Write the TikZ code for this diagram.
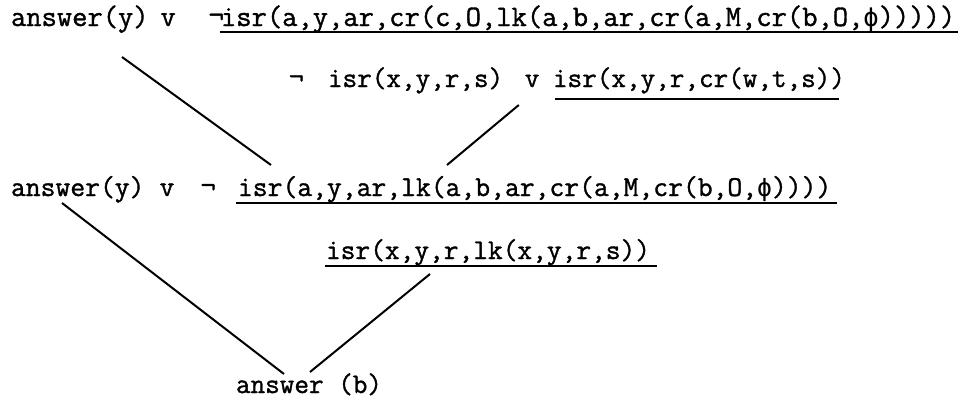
\documentclass[tikz,border=0pt]{standalone}
\usepackage{fontspec}
\newfontfamily\typefont{lmmono12-regular.otf}[FakeBold=1.2]
\newfontfamily\symfont{DejaVu Sans Mono}

\tikzset{
  term/.style={anchor=base west, inner sep=0pt, outer sep=0pt,
    font=\typefont\fontsize{#1pt}{#1pt}\selectfont},
  uline/.style={line width=1.5pt},
  link/.style={line width=2pt},
}
\newcommand{\phisym}{{\symfont\fontsize{0.86em}{1em}\selectfont ϕ}}

\begin{document}
\begin{tikzpicture}[x=1pt, y=-1pt]
  \fill[white] (0,0) rectangle (961,402);
  \useasboundingbox (0,0) rectangle (961,402);

  % first clause
  \node[term=29.7] (l1a) at (11,26)    {answer(y)};
  \node[term=29.7] (l1v) at (160.5,26) {v};
  \node[term=29.7] (l1n) at (208.5,26) {¬};
  \node[term=29.7] (l1c) at (221,26)   {isr(a,y,ar,cr(c,O,lk(a,b,ar,cr(a,M,cr(b,O,\phisym)))))};
  \draw[uline] ([xshift=-1pt,yshift=-6pt]l1c.base west) -- ([xshift=3pt,yshift=-6pt]l1c.base east);

  % second clause
  \node[term=28.35] (l2n) at (289,87)   {¬};
  \node[term=28.35] (l2a) at (328,87)   {isr(x,y,r,s)};
  \node[term=28.35] (l2v) at (524.8,87) {v};
  \node[term=28.35] (l2c) at (553,87)   {isr(x,y,r,cr(w,t,s))};
  \draw[uline] ([xshift=2pt,yshift=-12pt]l2c.base west) -- ([xshift=-6pt,yshift=-12pt]l2c.base east);

  % resolvent
  \node[term=28.8] (l3a) at (11,196)    {answer(y)};
  \node[term=28.8] (l3v) at (159.6,196) {v};
  \node[term=28.8] (l3n) at (200.6,196) {¬};
  \node[term=28.8] (l3c) at (238,196)   {isr(a,y,ar,lk(a,b,ar,cr(a,M,cr(b,O,\phisym))))};
  \draw[uline] ([xshift=-2pt,yshift=-7pt]l3c.base west) -- ([xshift=6pt,yshift=-7pt]l3c.base east);

  % unit clause
  \node[term=28.6] (l4) at (326,259) {isr(x,y,r,lk(x,y,r,s))};
  \draw[uline] ([xshift=-1pt,yshift=-7pt]l4.base west) -- ([xshift=7pt,yshift=-7pt]l4.base east);

  % answer
  \node[term=28.35] (l5) at (236,393) {answer (b)};

  % resolution links
  \draw[link] ([xshift=111pt,yshift=-31pt]l1a.base west) -- ([xshift=33pt,yshift=31pt]l3c.base west);
  \draw[link] ([xshift=-6pt,yshift=-18pt]l2v.base west) -- ([xshift=209pt,yshift=31pt]l3c.base west);
  \draw[link] ([xshift=51pt,yshift=-7pt]l3a.base west) -- ([xshift=48pt,yshift=19pt]l5.base west);
  \draw[link] ([xshift=104pt,yshift=-15pt]l4.base west) -- ([xshift=74pt,yshift=21pt]l5.base west);
\end{tikzpicture}
\end{document}
